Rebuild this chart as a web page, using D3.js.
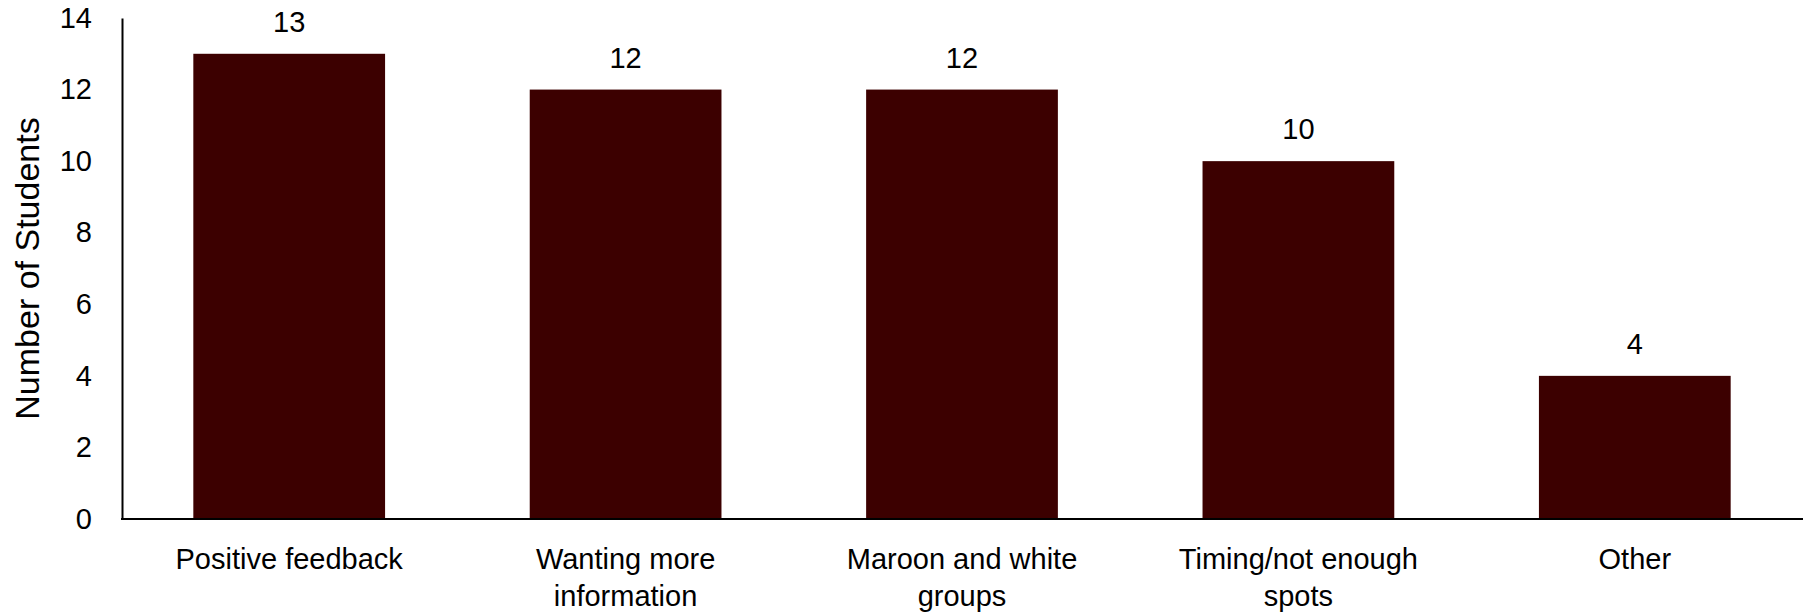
<!DOCTYPE html>
<html><head><meta charset="utf-8">
<script src="https://cdn.jsdelivr.net/npm/d3@7"></script>
<style>body{margin:0;background:#fff}svg{display:block}text{font-family:"Liberation Sans",Arial,sans-serif;fill:#000}</style>
</head><body><svg id="c" width="1805" height="614"></svg>
<script>
const categories = ["Positive feedback", "Wanting more information", "Maroon and white groups", "Timing/not enough spots", "Other"];
const categoryLines = [["Positive feedback"], ["Wanting more", "information"], ["Maroon and white", "groups"], ["Timing/not enough", "spots"], ["Other"]];
const values = [13, 12, 12, 10, 4];
const yTicks = [0, 2, 4, 6, 8, 10, 12, 14];
const yTitle = "Number of Students";

(function () {
const svg = d3.select("#c");
const mLeft = 121, mRight = 1803, mTop = 18, mBottom = 519;
const fs = 29;
const x = d3.scaleBand().domain(categories).range([mLeft, mRight]).paddingInner(0.43).paddingOuter(0.215);
const y = d3.scaleLinear().domain([0, 14]).range([mBottom, mTop]);

svg.selectAll("rect.bar").data(values).join("rect")
  .attr("class", "bar")
  .attr("x", (d, i) => x(categories[i]))
  .attr("width", x.bandwidth())
  .attr("y", d => y(d))
  .attr("height", d => y(0) - y(d))
  .attr("fill", "#3c0000");

svg.selectAll("text.val").data(values).join("text")
  .attr("class", "val")
  .attr("x", (d, i) => x(categories[i]) + x.bandwidth() / 2)
  .attr("y", d => y(d) - 22)
  .attr("text-anchor", "middle")
  .attr("font-size", fs)
  .text(d => d);

const yAxis = svg.append("g").attr("transform", `translate(${mLeft+1},0)`)
  .call(d3.axisLeft(y).tickValues(yTicks).tickSize(0).tickPadding(30).tickFormat(d3.format("d")));
yAxis.select(".domain").attr("stroke", "#000").attr("stroke-width", 2);
yAxis.selectAll("text").attr("font-size", fs).style("font-family", '"Liberation Sans", Arial, sans-serif');

const xAxis = svg.append("g").attr("transform", `translate(0,${mBottom})`)
  .call(d3.axisBottom(x).tickSize(0).tickFormat(""));
xAxis.select(".domain").attr("stroke", "#000").attr("stroke-width", 2).attr("d", `M${mLeft},0H${mRight}`);

categories.forEach((c, i) => {
  const t = svg.append("text")
    .attr("x", x(c) + x.bandwidth() / 2)
    .attr("y", 569)
    .attr("text-anchor", "middle")
    .attr("font-size", fs);
  categoryLines[i].forEach((ln, j) => {
    t.append("tspan").attr("x", x(c) + x.bandwidth() / 2).attr("dy", j === 0 ? 0 : 37).text(ln);
  });
});

svg.append("text")
  .attr("transform", `translate(39,${(mTop + mBottom) / 2}) rotate(-90)`)
  .attr("text-anchor", "middle")
  .attr("font-size", 34)
  .text(yTitle);
})();
</script></body></html>
